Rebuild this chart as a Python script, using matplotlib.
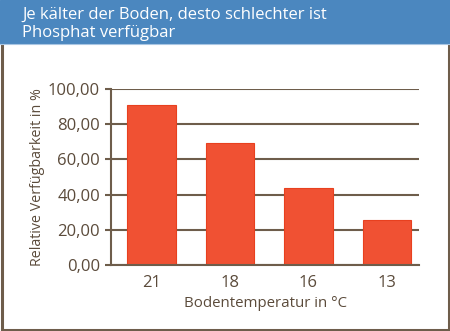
import matplotlib
matplotlib.use("Agg")
from matplotlib import pyplot as plt
from matplotlib.patches import Rectangle
from matplotlib.lines import Line2D

temps = ["21", "18", "16", "13"]
verfuegbarkeit = [90.9, 69.5, 43.8, 25.8]
yticks = [0, 20, 40, 60, 80, 100]

brown = "#6e5d4b"
textcol = "#5b4b3b"
blue = "#4b87bf"
red = "#f05133"

plt.rcParams["font.family"] = ["Open Sans", "DejaVu Sans"]

fig = plt.figure(figsize=(4.5, 3.31), dpi=100)
W, H = 450, 331

# frame around the card
fig.add_artist(Line2D([1.5 / W, 1.5 / W], [1.5 / H, 1], color=brown, lw=2.2))
fig.add_artist(Line2D([448.5 / W, 448.5 / W], [1.5 / H, 1], color=brown, lw=2.2))
fig.add_artist(Line2D([1.5 / W, 448.5 / W], [1.5 / H, 1.5 / H], color=brown, lw=2.2))

# blue header band with title
fig.add_artist(Rectangle((0, 1 - 43 / H), 1, 43 / H, color=blue, zorder=3))
fig.add_artist(Line2D([0, 1], [1 - 43.5 / H, 1 - 43.5 / H], color="#a9c6e3", lw=0.8, zorder=3))
fig.text(22 / W, 1 - 18.5 / H, "Je kälter der Boden, desto schlechter ist", color="white",
         fontsize=12, va="baseline", ha="left", zorder=4)
fig.text(22 / W, 1 - 37 / H, "Phosphat verfügbar", color="white",
         fontsize=12, va="baseline", ha="left", zorder=4)

ax = fig.add_axes([111 / W, 1 - 265 / H, (419 - 111) / W, (265 - 89) / H])
x = range(len(temps))
ax.bar(x, verfuegbarkeit, width=0.62, color=red, edgecolor="#e8401f", linewidth=0.8, zorder=3)

ax.set_xlim(-0.516, 3.408)
ax.set_ylim(0, 100)
ax.set_yticks(yticks)
ax.set_yticklabels([f"{v:.2f}".replace(".", ",") for v in yticks])
ax.set_xticks(list(x))
ax.set_xticklabels(temps)

ax.yaxis.grid(True, color=brown, lw=1.5, zorder=1)
ax.set_axisbelow(True)
for s in ["top", "right"]:
    ax.spines[s].set_visible(False)
for s in ["left", "bottom"]:
    ax.spines[s].set_color(brown)
    ax.spines[s].set_linewidth(1.5)
    ax.spines[s].set_zorder(4)

ax.tick_params(axis="y", length=4.5, width=1.5, color=brown, labelcolor=textcol,
               labelsize=12, pad=3.5)
ax.tick_params(axis="x", length=0, labelcolor=textcol, labelsize=12, pad=7)

ax.set_ylabel("Relative Verfügbarkeit in %", color=textcol, fontsize=10.3, labelpad=2)
ax.set_xlabel("Bodentemperatur in °C", color=textcol, fontsize=10.8, labelpad=4)

fig.savefig("out.png", dpi=100)
